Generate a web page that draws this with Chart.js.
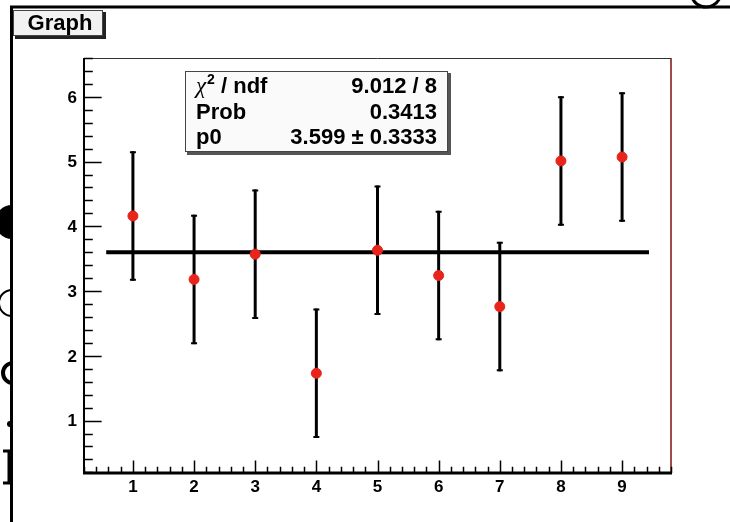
<!DOCTYPE html>
<html lang="en">
<head>
    <meta charset="UTF-8">
    <title>Graph</title>
    <script src="https://cdn.jsdelivr.net/npm/chart.js"></script>
    <style>
        body {
            margin: 0;
            padding: 0;
            background-color: #fff;
        }
        canvas {
            display: block;
        }
    </style>
</head>
<body>
    <canvas id="graph" width="730" height="522"></canvas>

    <script>
        // Data
        const xValues = [1, 2, 3, 4, 5, 6, 7, 8, 9];
        const yValues = [4.16, 3.18, 3.57, 1.73, 3.63, 3.24, 2.76, 5.01, 5.07];
        const yErrors = [1, 1, 1, 1, 1, 1, 1, 1, 1];

        // Constant fit p0 and the range it is drawn on
        const fitValue = 3.599;
        const fitRange = [0.563, 9.44];

        // Axis ticks
        const xTickLabels = ['1', '2', '3', '4', '5', '6', '7', '8', '9'];
        const yTickLabels = ['1', '2', '3', '4', '5', '6'];

        // Stats box
        const statsNames = ['ndf', 'Prob', 'p0'];
        const statsValues = ['9.012 / 8', '0.3413', '3.599 \u00b1 0.3333'];

        const FONT = "'Liberation Sans', Arial, sans-serif";

        // Draws the ROOT-like frame, axes, ticks, title and stats box
        const rootStyle = {
            id: 'rootStyle',
            beforeDraw(chart) {
                const ctx = chart.ctx;
                ctx.save();
                ctx.fillStyle = '#fff';
                ctx.fillRect(0, 0, chart.width, chart.height);

                // stray bits of the picture behind the canvas
                ctx.fillStyle = '#000';
                ctx.strokeStyle = '#000';
                ctx.beginPath();
                ctx.arc(12, 222, 17, Math.PI / 2, Math.PI * 1.5);
                ctx.fill();
                ctx.lineWidth = 2;
                ctx.beginPath();
                ctx.arc(12, 303, 13, Math.PI / 2, Math.PI * 1.5);
                ctx.stroke();
                ctx.lineWidth = 4;
                ctx.beginPath();
                ctx.arc(13, 373, 10, Math.PI / 2, Math.PI * 1.5);
                ctx.stroke();
                ctx.beginPath();
                ctx.arc(10, 424, 3, 0, Math.PI * 2);
                ctx.fill();
                ctx.lineWidth = 3;
                ctx.beginPath();
                ctx.moveTo(3, 451); ctx.lineTo(9, 451); ctx.lineTo(9, 483); ctx.lineTo(3, 483);
                ctx.stroke();
                ctx.beginPath();
                ctx.arc(706, -8, 15, 0.1 * Math.PI, 0.9 * Math.PI);
                ctx.stroke();

                // outer pad frame
                ctx.lineWidth = 3;
                ctx.beginPath();
                ctx.moveTo(11.5, chart.height);
                ctx.lineTo(11.5, 7);
                ctx.lineTo(chart.width, 7);
                ctx.stroke();
                ctx.restore();
            },
            beforeDatasetsDraw(chart) {
                const ctx = chart.ctx;
                const xs = chart.scales.x;
                const ys = chart.scales.y;
                ctx.save();
                ctx.strokeStyle = '#000';
                for (let i = 0; i < xValues.length; i++) {
                    const px = xs.getPixelForValue(xValues[i]);
                    const top = ys.getPixelForValue(yValues[i] + yErrors[i]);
                    const bot = ys.getPixelForValue(yValues[i] - yErrors[i]);
                    ctx.lineWidth = 3;
                    ctx.beginPath();
                    ctx.moveTo(px, top);
                    ctx.lineTo(px, bot);
                    ctx.stroke();
                    ctx.lineWidth = 2;
                    ctx.beginPath();
                    ctx.moveTo(px - 3, top + 1);
                    ctx.lineTo(px + 3, top + 1);
                    ctx.moveTo(px - 3, bot - 1);
                    ctx.lineTo(px + 3, bot - 1);
                    ctx.stroke();
                }
                ctx.restore();
            },
            afterDatasetsDraw(chart) {
                const ctx = chart.ctx;
                const a = chart.chartArea;
                const xs = chart.scales.x;
                const ys = chart.scales.y;
                ctx.save();

                // frame: thin top, red-brown right, thick left/bottom axes
                ctx.lineWidth = 1;
                ctx.strokeStyle = '#333';
                ctx.beginPath();
                ctx.moveTo(a.left, a.top + 0.5);
                ctx.lineTo(a.right, a.top + 0.5);
                ctx.stroke();
                ctx.strokeStyle = '#7a1010';
                ctx.lineWidth = 1.5;
                ctx.beginPath();
                ctx.moveTo(a.right, a.top);
                ctx.lineTo(a.right, a.bottom);
                ctx.stroke();
                ctx.strokeStyle = '#000';
                ctx.lineWidth = 2;
                ctx.beginPath();
                ctx.moveTo(a.left, a.top);
                ctx.lineTo(a.left, a.bottom);
                ctx.stroke();
                ctx.lineWidth = 3;
                ctx.beginPath();
                ctx.moveTo(a.left - 1, a.bottom);
                ctx.lineTo(a.right + 1, a.bottom);
                ctx.stroke();

                // ticks point inwards, length ~3% of the other axis
                const xMajor = (a.bottom - a.top) * 0.03;
                const yMajor = (a.right - a.left) * 0.03;
                ctx.lineWidth = 1.5;
                ctx.beginPath();
                for (let v = Math.ceil(xs.min * 5) / 5; v <= xs.max + 1e-6; v += 0.2) {
                    const px = Math.round(xs.getPixelForValue(v)) + 0.5;
                    const isMajor = Math.abs(v - Math.round(v)) < 1e-6;
                    ctx.moveTo(px, a.bottom);
                    ctx.lineTo(px, a.bottom - (isMajor ? xMajor : xMajor / 2));
                }
                for (let v = Math.ceil(ys.min * 5) / 5; v <= ys.max + 1e-6; v += 0.2) {
                    const py = Math.round(ys.getPixelForValue(v)) + 0.5;
                    const isMajor = Math.abs(v - Math.round(v)) < 1e-6;
                    ctx.moveTo(a.left, py);
                    ctx.lineTo(a.left + (isMajor ? yMajor : yMajor / 2), py);
                }
                ctx.stroke();

                // tick labels
                ctx.fillStyle = '#000';
                ctx.font = 'bold 17px ' + FONT;
                ctx.textBaseline = 'middle';
                ctx.textAlign = 'center';
                xTickLabels.forEach(function (t) {
                    ctx.fillText(t, xs.getPixelForValue(Number(t)), a.bottom + 14);
                });
                ctx.textAlign = 'right';
                yTickLabels.forEach(function (t) {
                    ctx.fillText(t, a.left - 7, ys.getPixelForValue(Number(t)) + 1);
                });

                // title box
                ctx.fillStyle = '#222';
                ctx.fillRect(15, 12, 91, 27);
                ctx.fillStyle = '#f2f2f2';
                ctx.fillRect(13, 10, 90, 26);
                ctx.strokeStyle = '#444';
                ctx.lineWidth = 1;
                ctx.strokeRect(13.5, 10.5, 89, 25);
                ctx.fillStyle = '#000';
                ctx.font = 'bold 22px ' + FONT;
                ctx.textAlign = 'center';
                ctx.fillText('Graph', 60, 24);

                // stats box
                ctx.fillStyle = '#555';
                ctx.fillRect(187, 73, 264, 82);
                ctx.fillStyle = '#fafafa';
                ctx.fillRect(185, 71, 263, 81);
                ctx.strokeStyle = '#444';
                ctx.strokeRect(185.5, 71.5, 262, 80);

                const rows = [87, 113, 138];
                ctx.fillStyle = '#000';
                // chi2 / ndf label
                ctx.textAlign = 'left';
                ctx.font = 'italic 23px "Liberation Serif", serif';
                ctx.fillText('\u03c7', 196, rows[0]);
                let x = 196 + ctx.measureText('\u03c7').width + 1;
                ctx.font = 'bold 14px ' + FONT;
                ctx.fillText('2', x, rows[0] - 7);
                x += ctx.measureText('2').width;
                ctx.font = 'bold 22px ' + FONT;
                ctx.fillText(' / ' + statsNames[0], x, rows[0]);
                ctx.fillText(statsNames[1], 196, rows[1]);
                ctx.fillText(statsNames[2], 196, rows[2]);
                ctx.textAlign = 'right';
                statsValues.forEach(function (v, i) {
                    ctx.fillText(v, 437, rows[i]);
                });

                ctx.restore();
            }
        };

        const ctx = document.getElementById('graph').getContext('2d');

        new Chart(ctx, {
            type: 'scatter',
            data: {
                datasets: [
                    {
                        label: 'Graph',
                        data: xValues.map(function (x, i) { return { x: x, y: yValues[i] }; }),
                        backgroundColor: '#e8241b',
                        borderColor: '#e8241b',
                        pointRadius: 5,
                        pointHoverRadius: 5,
                        showLine: false
                    },
                    {
                        label: 'pol0',
                        type: 'line',
                        data: [
                            { x: fitRange[0], y: fitValue },
                            { x: fitRange[1], y: fitValue }
                        ],
                        borderColor: '#000',
                        borderWidth: 4,
                        pointRadius: 0,
                        fill: false
                    }
                ]
            },
            options: {
                responsive: false,
                animation: false,
                layout: {
                    padding: { left: 84, top: 58, right: 59, bottom: 49 }
                },
                scales: {
                    x: { type: 'linear', min: 0.2, max: 9.8, display: false },
                    y: { type: 'linear', min: 0.19, max: 6.6, display: false }
                },
                plugins: {
                    legend: { display: false },
                    tooltip: { enabled: false }
                }
            },
            plugins: [rootStyle]
        });
    </script>
</body>
</html>
